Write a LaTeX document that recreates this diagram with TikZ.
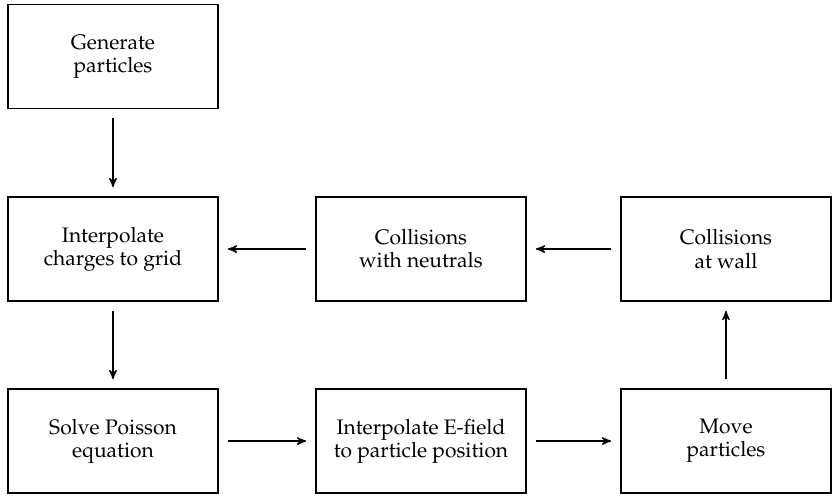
\documentclass[tikz,border=0pt]{standalone}
\usepackage[T1]{fontenc}
\usepackage{mathpazo}
\usepackage{tikz}
\usetikzlibrary{arrows}
\tikzset{stepbox/.style = {draw, line width=0.9pt, minimum width=105pt,
                           minimum height=52pt, align=center, inner sep=0pt,
                           font=\fontsize{10.5}{11.6}\selectfont},
         flow/.style = {-stealth', line width=0.7pt,
                        shorten >=4.5pt, shorten <=4.5pt}}

\begin{document}
\begin{tikzpicture}[x=0.5pt, y=-0.5pt]
    \useasboundingbox (0, 0) rectangle (832, 495);

    \node [stepbox] (generate) at (113, 56.5) {Generate\\particles};
    \node [stepbox] (charges) at (113, 249) {Interpolate\\charges to grid};
    \node [stepbox] (neutrals) at (421, 249) {Collisions\\with neutrals};
    \node [stepbox] (wall) at (726, 249) {Collisions\\at wall};
    \node [stepbox] (poisson) at (113, 441) {Solve Poisson\\equation};
    \node [stepbox] (efield) at (421, 441) {Interpolate E-field\\to particle position};
    \node [stepbox] (move) at (726, 441) {Move\\particles};

    \draw [flow] (generate) -- (charges);
    \draw [flow] (charges) -- (poisson);
    \draw [flow] (poisson) -- (efield);
    \draw [flow] (efield) -- (move);
    \draw [flow] (move) -- (wall);
    \draw [flow] (wall) -- (neutrals);
    \draw [flow] (neutrals) -- (charges);
\end{tikzpicture}
\end{document}
